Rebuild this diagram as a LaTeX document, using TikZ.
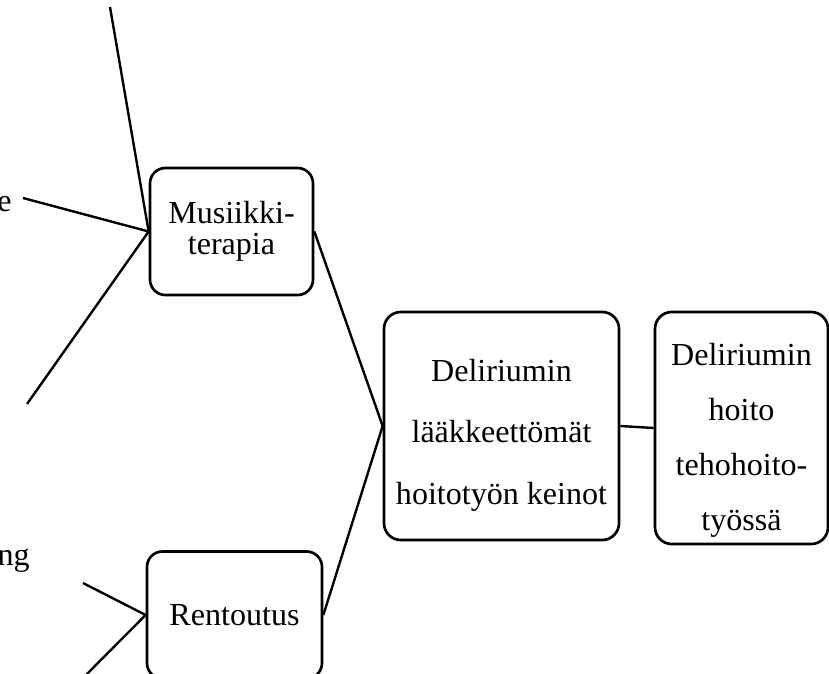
\documentclass[tikz,border=0pt]{standalone}
\usepackage{fontspec}
\setmainfont{Liberation Serif}
\usetikzlibrary{positioning}

\begin{document}
\begin{tikzpicture}[x=0.025cm, y=-0.025cm,
    rbox/.style={rectangle, draw, line width=1.9pt, rounded corners=11pt, align=center, inner sep=0pt},
    link/.style={line width=1.7pt}]
\useasboundingbox (0,0) rectangle (829,673);
\clip (0,0) rectangle (829,673);
% boxes
\node (musiikki) [rbox, minimum width=4.075cm, minimum height=3.175cm, font=\fontsize{22.8}{22}\selectfont] at (231.5,231.5) {Musiikki-\\terapia};
\node (rentoutus) [rbox, minimum width=4.375cm, minimum height=3.175cm, font=\fontsize{22.8}{22}\selectfont] at (234.5,615) {Rentoutus};
\node (keinot) [rbox, rounded corners=12pt, minimum width=5.875cm, minimum height=5.7cm, font=\fontsize{22.8}{44}\selectfont] at (501.5,426) {\rule{0pt}{29pt}Deliriumin\\lääkkeettömät\\hoitotyön keinot};
\node (hoito) [rbox, rounded corners=12pt, minimum width=4.325cm, minimum height=5.8cm, font=\fontsize{22.8}{39}\selectfont] at (741.5,428) {\rule{0pt}{33pt}Deliriumin\\hoito\\tehohoito-\\työssä};
% cut-off labels on the left
\node (labe) [anchor=base east, inner sep=0pt, font=\fontsize{22.8}{22}\selectfont] at (12,211) {e};
\node (labng) [anchor=base east, inner sep=0pt, font=\fontsize{22.8}{22}\selectfont] at (30,565) {ng};
\coordinate (m1) at (110,7);
\coordinate (m2) at (23,198);
\coordinate (m3) at (27,404);
\coordinate (r1) at (83,583);
\coordinate (r2) at (80,681);
% connectors
\draw[link] (musiikki.west) -- (m1);
\draw[link] (musiikki.west) -- (m2);
\draw[link] (musiikki.west) -- (m3);
\draw[link] (rentoutus.west) -- (r1);
\draw[link] (rentoutus.west) -- (r2);
\draw[link] (musiikki.east) -- (keinot.west);
\draw[link] (rentoutus.east) -- (keinot.west);
\draw[link] (keinot.east) -- (hoito.west);
\end{tikzpicture}
\end{document}
